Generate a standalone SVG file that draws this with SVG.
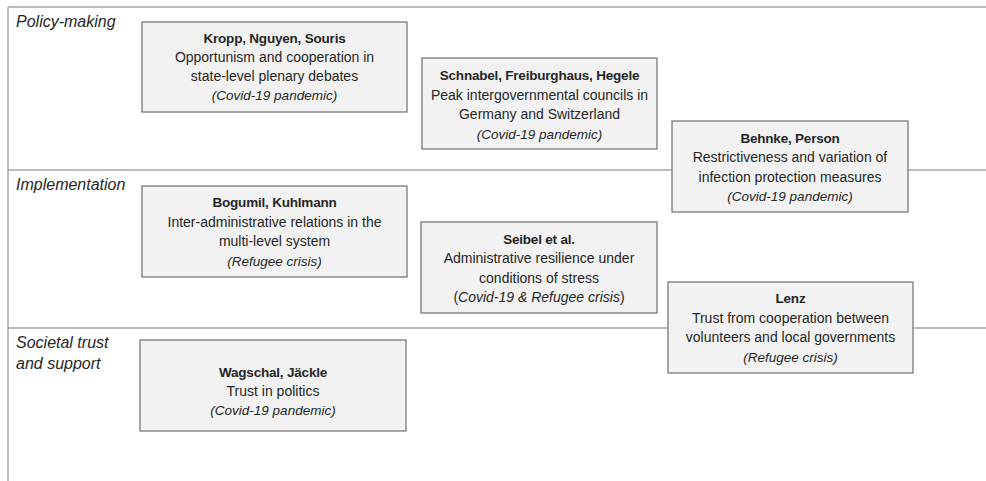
<svg xmlns="http://www.w3.org/2000/svg" width="986" height="481" viewBox="0 0 986 481">
<style>
.lane{stroke:#a6a6a6;stroke-width:1.5;fill:none}
.box{fill:#f2f2f2;stroke:#6e6e6e;stroke-width:1.2}
.t{font-family:"Liberation Sans",Arial,sans-serif;font-size:14px;fill:#262626;text-anchor:middle}
.b{font-weight:bold;font-size:13.5px;letter-spacing:-0.2px}
.i{font-style:italic;font-size:13.5px}
.lbl{font-family:"Liberation Sans",Arial,sans-serif;font-size:16px;font-style:italic;fill:#262626}
</style>
<rect width="986" height="481" fill="#ffffff"/>
<g id="lanes">
<line class="lane" x1="8" y1="7" x2="986" y2="7"/>
<line class="lane" x1="8" y1="7" x2="8" y2="481"/>
<line class="lane" x1="8" y1="170" x2="986" y2="170"/>
<line class="lane" x1="8" y1="328" x2="986" y2="328"/>
<text class="lbl" x="16" y="27">Policy-making</text>
<text class="lbl" x="16" y="190">Implementation</text>
<text class="lbl" x="16" y="348">Societal trust</text>
<text class="lbl" x="16" y="369">and support</text>
</g>
<g id="connectors"></g>
<g id="kropp">
<rect class="box" x="142" y="22" width="265" height="90"/>
<text class="t b" x="274.5" y="43">Kropp, Nguyen, Souris</text>
<text class="t" x="274.5" y="62">Opportunism and cooperation in</text>
<text class="t" x="274.5" y="81">state-level plenary debates</text>
<text class="t i" x="274.5" y="100">(Covid-19 pandemic)</text>
</g>
<g id="schnabel">
<rect class="box" x="422" y="58" width="235" height="91"/>
<text class="t b" x="539.5" y="80">Schnabel, Freiburghaus, Hegele</text>
<text class="t" x="539.5" y="100">Peak intergovernmental councils in</text>
<text class="t" x="539.5" y="119">Germany and Switzerland</text>
<text class="t i" x="539.5" y="139">(Covid-19 pandemic)</text>
</g>
<g id="behnke">
<rect class="box" x="672" y="121" width="236" height="91"/>
<text class="t b" x="790" y="143">Behnke, Person</text>
<text class="t" x="790" y="162">Restrictiveness and variation of</text>
<text class="t" x="790" y="182">infection protection measures</text>
<text class="t i" x="790" y="201">(Covid-19 pandemic)</text>
</g>
<g id="bogumil">
<rect class="box" x="142" y="186" width="265" height="91"/>
<text class="t b" x="274.5" y="207">Bogumil, Kuhlmann</text>
<text class="t" x="274.5" y="227">Inter-administrative relations in the</text>
<text class="t" x="274.5" y="246">multi-level system</text>
<text class="t i" x="274.5" y="266">(Refugee crisis)</text>
</g>
<g id="seibel">
<rect class="box" x="421" y="222" width="236" height="91"/>
<text class="t b" x="539" y="244">Seibel et al.</text>
<text class="t" x="539" y="263">Administrative resilience under</text>
<text class="t" x="539" y="283">conditions of stress</text>
<text class="t" x="539" y="302">(<tspan font-style="italic">Covid-19 &amp; Refugee crisis</tspan>)</text>
</g>
<g id="lenz">
<rect class="box" x="668" y="282" width="245" height="91"/>
<text class="t b" x="790.5" y="303">Lenz</text>
<text class="t" x="790.5" y="323">Trust from cooperation between</text>
<text class="t" x="790.5" y="342">volunteers and local governments</text>
<text class="t i" x="790.5" y="362">(Refugee crisis)</text>
</g>
<g id="wagschal">
<rect class="box" x="140" y="340" width="266" height="91"/>
<text class="t b" x="273" y="377">Wagschal, Jäckle</text>
<text class="t" x="273" y="396">Trust in politics</text>
<text class="t i" x="273" y="415">(Covid-19 pandemic)</text>
</g>
</svg>
